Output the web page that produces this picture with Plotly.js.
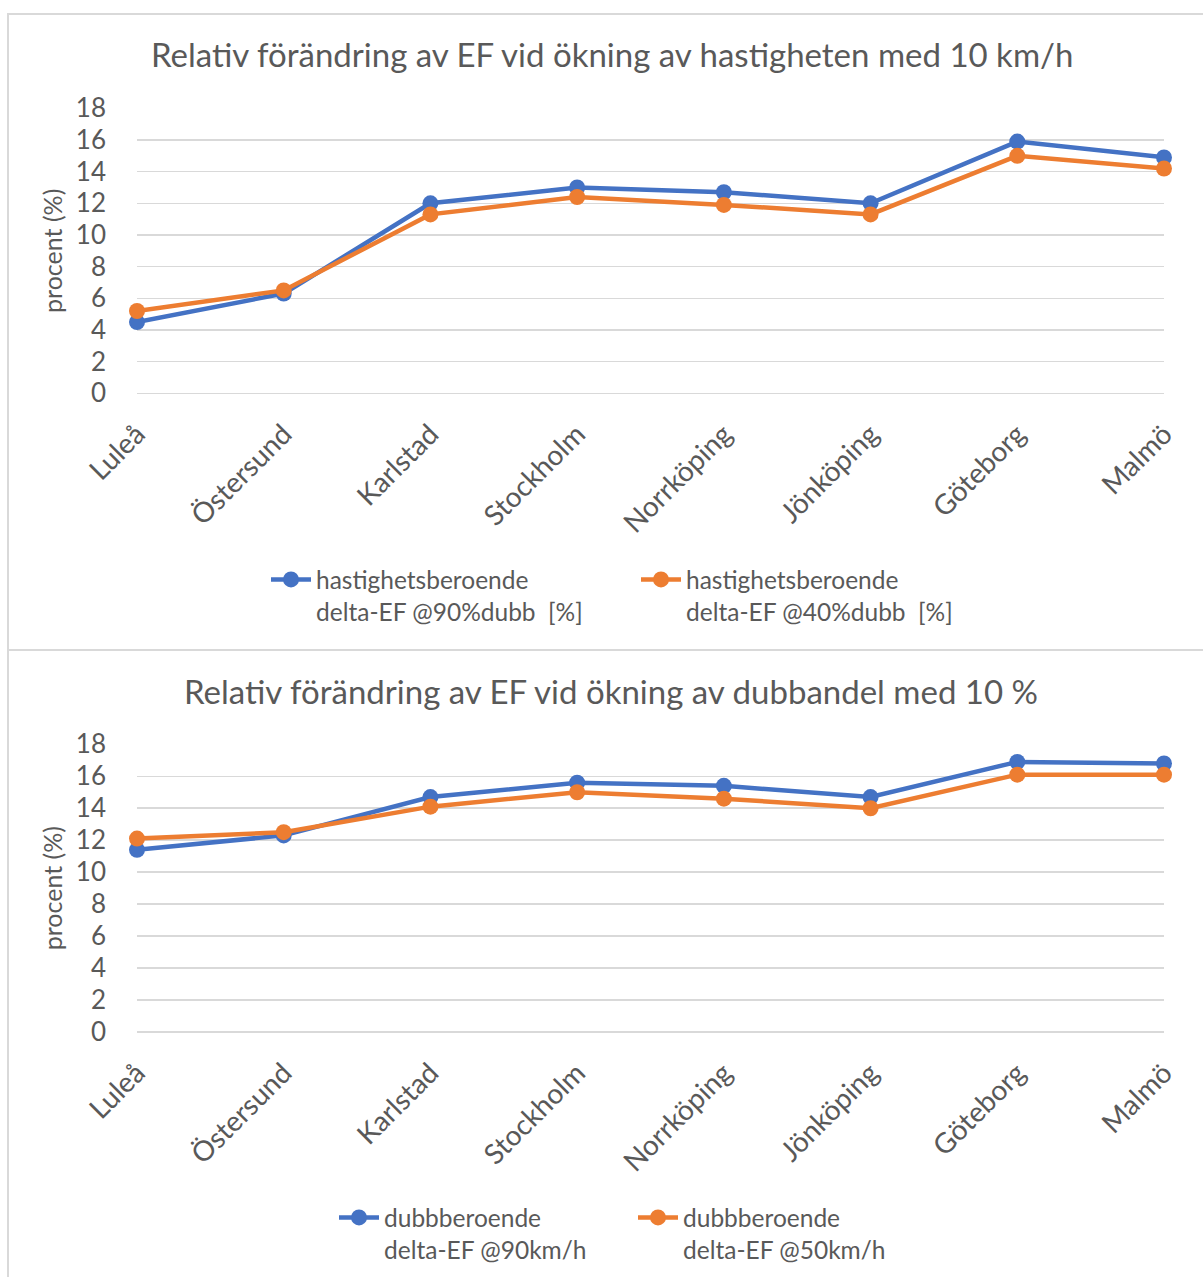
<!DOCTYPE html>
<html>
<head>
<meta charset="utf-8">
<script src="https://cdn.plot.ly/plotly-3.0.1.min.js"></script>
<style>html,body{margin:0;padding:0;background:#fff}#chart{width:1203px;height:1277px}</style>
</head>
<body>
<div id="chart"></div>
<script>
const cities = ["Luleå","Östersund","Karlstad","Stockholm","Norrköping","Jönköping","Göteborg","Malmö"];
const speed90dubb = [4.5, 6.3, 12.0, 13.0, 12.7, 12.0, 15.9, 14.9];
const speed40dubb = [5.2, 6.5, 11.3, 12.4, 11.9, 11.3, 15.0, 14.2];
const dubb90kmh = [11.4, 12.3, 14.7, 15.6, 15.4, 14.7, 16.9, 16.8];
const dubb50kmh = [12.1, 12.5, 14.1, 15.0, 14.6, 14.0, 16.1, 16.1];
const yTicks = [0,2,4,6,8,10,12,14,16,18];

const W = 1203, H = 1277, L = 137, R = 39;
const pw = W - L - R;
const px = v => (v - L) / pw;
const py = v => 1 - v / H;

const BLUE = "#4472C4", ORANGE = "#ED7D31", TXT = "#595959", GRID = "#D9D9D9";
const FONT = "Lato, 'Open Sans', sans-serif";

function tr(y, name, color, xa, ya, leg) {
  return {
    x: cities, y: y, name: name, type: "scatter", mode: "lines+markers",
    xaxis: xa, yaxis: ya, legend: leg, cliponaxis: false,
    line: {color: color, width: 4.5},
    marker: {color: color, size: 16}
  };
}

const data = [
  tr(speed90dubb, "hastighetsberoende<br>delta-EF @90%dubb  [%]", BLUE, "x", "y", "legend"),
  tr(speed40dubb, "hastighetsberoende<br>delta-EF @40%dubb  [%]", ORANGE, "x", "y", "legend"),
  tr(dubb90kmh, "dubbberoende<br>delta-EF @90km/h", BLUE, "x2", "y2", "legend2"),
  tr(dubb50kmh, "dubbberoende<br>delta-EF @50km/h", ORANGE, "x2", "y2", "legend2")
];

function xax(anchor) {
  return {
    domain: [0, 1], anchor: anchor, type: "category", range: [0, 7],
    tickangle: -45, showgrid: false, zeroline: false, showline: false,
    ticks: "", ticklabelstandoff: 18,
    tickfont: {family: FONT, size: 28, color: TXT}, fixedrange: true
  };
}
function yax(anchor, dom) {
  return {
    domain: dom, anchor: anchor, range: [0, 18], tickvals: yTicks,
    showgrid: true, gridcolor: GRID, gridwidth: 1.5, zeroline: true, zerolinecolor: GRID, zerolinewidth: 1.5,
    showline: false, ticks: "", ticklabelstandoff: 30,
    tickfont: {family: FONT, size: 26, color: TXT},
    title: {text: "procent (%)", font: {family: FONT, size: 25, color: TXT}, standoff: 6},
    fixedrange: true
  };
}

const layout = {
  width: W, height: H,
  margin: {l: L, r: R, t: 0, b: 0},
  paper_bgcolor: "#fff", plot_bgcolor: "#fff",
  font: {family: FONT, color: TXT},
  xaxis: xax("y"),
  yaxis: yax("x", [py(393.3), py(108.3)]),
  xaxis2: xax("y2"),
  yaxis2: yax("x2", [py(1032), py(744.3)]),
  legend: {
    orientation: "h", x: px(266), y: py(557), xanchor: "left", yanchor: "top",
    font: {family: FONT, size: 24.5, color: TXT}, valign: "top",
    entrywidth: 315, itemwidth: 40, bgcolor: "rgba(0,0,0,0)"
  },
  legend2: {
    orientation: "h", x: px(334), y: py(1195), xanchor: "left", yanchor: "top",
    font: {family: FONT, size: 24.5, color: TXT}, valign: "top",
    entrywidth: 244, itemwidth: 40, bgcolor: "rgba(0,0,0,0)"
  },
  annotations: [
    {text: "Relativ förändring av EF vid ökning av hastigheten med 10 km/h", xref: "paper", yref: "paper",
     x: px(612), y: py(54), xanchor: "center", yanchor: "middle", showarrow: false,
     font: {family: FONT, size: 33, color: TXT}},
    {text: "Relativ förändring av EF vid ökning av dubbandel med 10 %", xref: "paper", yref: "paper",
     x: px(611), y: py(691), xanchor: "center", yanchor: "middle", showarrow: false,
     font: {family: FONT, size: 33, color: TXT}}
  ],
  shapes: [
    {type: "rect", xref: "paper", yref: "paper", x0: px(8), x1: px(1215), y0: py(650), y1: py(14),
     line: {color: GRID, width: 2}, layer: "below"},
    {type: "rect", xref: "paper", yref: "paper", x0: px(8), x1: px(1215), y0: py(1290), y1: py(650),
     line: {color: GRID, width: 2}, layer: "below"}
  ],
  showlegend: true
};

Plotly.newPlot("chart", data, layout, {displayModeBar: false, staticPlot: true});
</script>
</body>
</html>
